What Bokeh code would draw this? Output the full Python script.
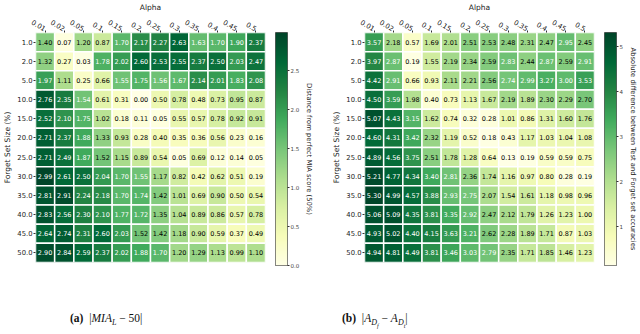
import numpy as np
from bokeh.plotting import figure
from bokeh.models import (ColumnDataSource, LinearColorMapper, FactorRange, Range1d,
                          FixedTicker, PrintfTickFormatter, Div)
from bokeh.layouts import row, column
from bokeh.transform import transform
from bokeh.core.properties import value
from bokeh.embed import file_html
from bokeh.resources import INLINE

alphas = ["0.01", "0.02", "0.05", "0.1", "0.15", "0.2", "0.25", "0.3", "0.35", "0.4", "0.45", "0.5"]
sizes = ["1.0", "2.0", "5.0", "10.0", "15.0", "20.0", "25.0", "30.0", "35.0", "40.0", "45.0", "50.0"]

# (a) |MIA_L - 50|  -- one list per forget-set size
mia_1 = [1.40, 0.07, 1.20, 0.87, 1.70, 2.17, 2.27, 2.63, 1.63, 1.70, 1.90, 2.37]
mia_2 = [1.32, 0.27, 0.03, 1.78, 2.02, 2.60, 2.53, 2.55, 2.37, 2.50, 2.03, 2.47]
mia_5 = [1.97, 1.11, 0.25, 0.66, 1.55, 1.75, 1.56, 1.67, 2.14, 2.01, 1.83, 2.08]
mia_10 = [2.76, 2.35, 1.54, 0.61, 0.31, 0.00, 0.50, 0.78, 0.48, 0.73, 0.95, 0.87]
mia_15 = [2.52, 2.10, 1.75, 1.02, 0.18, 0.11, 0.05, 0.55, 0.57, 0.78, 0.92, 0.91]
mia_20 = [2.71, 2.37, 1.88, 1.33, 0.93, 0.28, 0.40, 0.35, 0.36, 0.56, 0.23, 0.16]
mia_25 = [2.71, 2.49, 1.87, 1.52, 1.15, 0.89, 0.54, 0.05, 0.69, 0.12, 0.14, 0.05]
mia_30 = [2.99, 2.61, 2.50, 2.04, 1.70, 1.55, 1.17, 0.82, 0.42, 0.62, 0.51, 0.19]
mia_35 = [2.81, 2.91, 2.24, 2.18, 1.70, 1.74, 1.42, 1.01, 0.69, 0.90, 0.50, 0.54]
mia_40 = [2.83, 2.56, 2.30, 2.10, 1.77, 1.72, 1.35, 1.04, 0.89, 0.86, 0.57, 0.78]
mia_45 = [2.64, 2.74, 2.31, 2.60, 2.03, 1.52, 1.42, 1.18, 0.90, 0.59, 0.37, 0.49]
mia_50 = [2.90, 2.84, 2.59, 2.37, 2.02, 1.88, 1.70, 1.20, 1.29, 1.13, 0.99, 1.10]

# (b) |A_Df - A_Dt|
acc_1 = [3.57, 2.18, 0.57, 1.69, 2.01, 2.51, 2.53, 2.48, 2.31, 2.47, 2.95, 2.45]
acc_2 = [3.97, 2.87, 0.19, 1.55, 2.19, 2.34, 2.59, 2.83, 2.44, 2.87, 2.59, 2.91]
acc_5 = [4.42, 2.91, 0.66, 0.93, 2.11, 2.21, 2.56, 2.74, 2.99, 3.27, 3.00, 3.53]
acc_10 = [4.50, 3.59, 1.98, 0.40, 0.73, 1.13, 1.67, 2.19, 1.89, 2.30, 2.29, 2.70]
acc_15 = [5.07, 4.43, 3.15, 1.62, 0.74, 0.32, 0.28, 1.01, 0.86, 1.31, 1.60, 1.76]
acc_20 = [4.60, 4.31, 3.42, 2.32, 1.19, 0.52, 0.18, 0.43, 1.17, 1.03, 1.04, 1.08]
acc_25 = [4.89, 4.56, 3.75, 2.51, 1.78, 1.28, 0.64, 0.13, 0.19, 0.59, 0.59, 0.75]
acc_30 = [5.21, 4.77, 4.34, 3.40, 2.81, 2.36, 1.74, 1.16, 0.97, 0.80, 0.28, 0.19]
acc_35 = [5.30, 4.99, 4.57, 3.88, 2.93, 2.75, 2.07, 1.54, 1.61, 1.18, 0.98, 0.96]
acc_40 = [5.06, 5.09, 4.35, 3.81, 3.35, 2.92, 2.47, 2.12, 1.79, 1.26, 1.23, 1.00]
acc_45 = [4.93, 5.02, 4.40, 4.15, 3.63, 3.21, 2.62, 2.28, 1.89, 1.71, 0.87, 1.03]
acc_50 = [4.94, 4.81, 4.49, 3.81, 3.46, 3.03, 2.79, 2.35, 1.71, 1.85, 1.46, 1.23]

mia_rows = [mia_1, mia_2, mia_5, mia_10, mia_15, mia_20, mia_25, mia_30, mia_35, mia_40, mia_45, mia_50]
acc_rows = [acc_1, acc_2, acc_5, acc_10, acc_15, acc_20, acc_25, acc_30, acc_35, acc_40, acc_45, acc_50]

mia_ticks = [0.0, 0.5, 1.0, 1.5, 2.0, 2.5]
acc_ticks = [1, 2, 3, 4, 5]

FONT = "DejaVu Sans"
ANCHORS = ['#ffffe5', '#f7fcb9', '#d9f0a3', '#addd8e', '#78c679',
           '#41ab5d', '#238443', '#006837', '#004529']


def interp_palette(anchors, n):
    rgb = np.array([[int(c[i:i + 2], 16) for i in (1, 3, 5)] for c in anchors], float)
    pos = np.linspace(0, 1, len(anchors))
    out = []
    for t in np.linspace(0, 1, n):
        out.append('#%02x%02x%02x' % tuple(int(round(np.interp(t, pos, rgb[:, k]))) for k in range(3)))
    return out


PAL = interp_palette(ANCHORS, 256)

FRAME = 230
TOP = 26
BOTTOM = 38


def heatmap(rows, thr):
    flat = [v for r in rows for v in r]
    lo, hi = min(flat), max(flat)
    xs, ys, vs, txt, tcol = [], [], [], [], []
    for s, r in zip(sizes, rows):
        for a, v in zip(alphas, r):
            xs.append(a)
            ys.append(s)
            vs.append(v)
            txt.append("%.2f" % v)
            tcol.append("white" if v >= thr else "black")
    src = ColumnDataSource(dict(x=xs, y=ys, v=vs, t=txt, c=tcol))
    mapper = LinearColorMapper(palette=PAL, low=lo, high=hi)
    p = figure(x_range=FactorRange(*alphas), y_range=FactorRange(*reversed(sizes)),
               x_axis_location="above", frame_width=FRAME, frame_height=FRAME,
               min_border_left=28, min_border_right=2, min_border_top=TOP,
               min_border_bottom=BOTTOM, toolbar_location=None, tools="",
               output_backend="svg")
    p.rect(x="x", y="y", width=1, height=1, source=src,
           fill_color=transform("v", mapper), line_color="white", line_width=1.5)
    p.text(x="x", y="y", text="t", source=src, text_color="c",
           text_align="center", text_baseline="middle",
           text_font=value(FONT), text_font_size="6.5px")
    p.outline_line_color = None
    p.grid.grid_line_color = None
    p.axis.axis_line_color = None
    p.axis.major_tick_in = 0
    p.axis.major_tick_out = 2
    p.axis.major_tick_line_color = "#333333"
    p.axis.major_label_text_font = FONT
    p.axis.major_label_text_font_size = "6.8px"
    p.axis.major_label_text_color = "#222222"
    p.axis.major_label_standoff = 1
    p.axis.axis_label_text_font = FONT
    p.axis.axis_label_text_font_size = "7.5px"
    p.axis.axis_label_text_font_style = "normal"
    p.axis.axis_label_text_color = "#222222"
    p.axis.axis_label_standoff = 2
    p.xaxis.axis_label = "Alpha"
    p.xaxis.major_label_orientation = -0.55
    p.yaxis.axis_label = "Forget Set Size (%)"
    return p, mapper, lo, hi


def colorbar(mapper, lo, hi, ticks, fmt, label, right_border):
    c = figure(x_range=Range1d(0, 1), y_range=Range1d(lo, hi),
               x_axis_location=None, y_axis_location="right",
               frame_width=12, frame_height=FRAME + 3,
               min_border_left=8, min_border_right=right_border,
               min_border_top=TOP - 1, min_border_bottom=BOTTOM - 2,
               toolbar_location=None, tools="", output_backend="svg")
    grad = np.linspace(lo, hi, 256).reshape(256, 1)
    c.image(image=[grad], x=0, y=lo, dw=1, dh=hi - lo, color_mapper=mapper)
    c.grid.grid_line_color = None
    c.outline_line_color = "#333333"
    c.outline_line_width = 0.8
    ax = c.yaxis[0]
    ax.ticker = FixedTicker(ticks=ticks)
    ax.formatter = PrintfTickFormatter(format=fmt)
    ax.axis_line_color = None
    ax.major_tick_in = 0
    ax.major_tick_out = 2
    ax.minor_tick_line_color = None
    ax.major_tick_line_color = "#333333"
    ax.major_label_text_font = FONT
    ax.major_label_text_font_size = "5.5px"
    ax.major_label_standoff = 1
    ax.axis_label = label
    ax.axis_label_text_font = FONT
    ax.axis_label_text_font_size = "6.8px"
    ax.axis_label_text_font_style = "normal"
    ax.axis_label_text_color = "#222222"
    ax.axis_label_standoff = 3
    return c


h1, m1, lo1, hi1 = heatmap(mia_rows, 1.53)
c1 = colorbar(m1, lo1, hi1, mia_ticks, "%.1f", "Distance from perfect MIA score (50%)", 42)
h2, m2, lo2, hi2 = heatmap(acc_rows, 2.72)
c2 = colorbar(m2, lo2, hi2, acc_ticks, "%d", "Absolute difference between Test and Forget set accuracies", 22)

cap_html = (
    '<div style="position:relative;width:624px;height:24px;'
    'font-family:\'Liberation Serif\',serif;font-size:11.5px;color:#111;">'
    '<span style="position:absolute;left:70px;top:10px;white-space:nowrap">'
    '<b>(a)</b>&nbsp; |<i>MIA<sub style="font-size:8px">L</sub></i> &minus; 50|</span>'
    '<span style="position:absolute;left:342px;top:10px;white-space:nowrap">'
    '<b>(b)</b>&nbsp; |<i>A<sub style="font-size:8px">D<sub style="font-size:6px">f</sub></sub></i>'
    ' &minus; <i>A<sub style="font-size:8px">D<sub style="font-size:6px">t</sub></sub></i>|</span>'
    '</div>'
)
cap = Div(text=cap_html, width=624, height=24, margin=(0, 0, 0, 0))

layout = column(row(h1, c1, h2, c2), cap)

open("out.html", "w").write(file_html(layout, INLINE))
